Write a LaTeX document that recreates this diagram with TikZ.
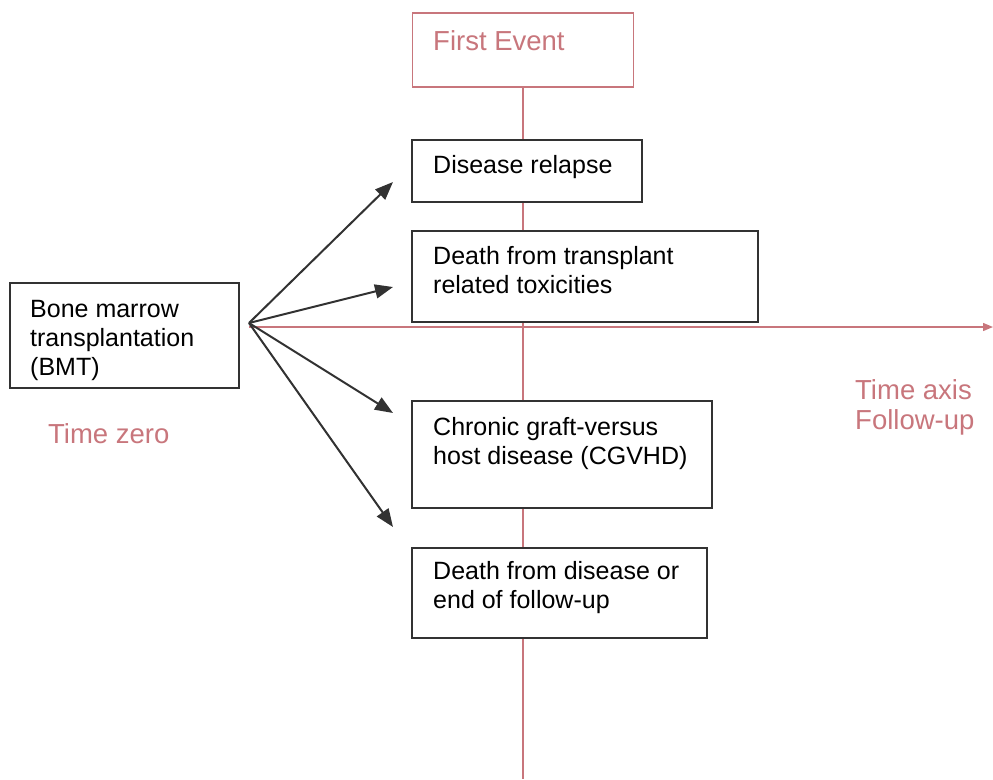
\documentclass[tikz,border=0pt]{standalone}
\usepackage{fontspec}
\setmainfont{Liberation Sans}
\usetikzlibrary{arrows.meta}
\definecolor{rose}{RGB}{200,118,124}
\definecolor{ink}{RGB}{50,50,50}
\begin{document}
\begin{tikzpicture}[x=1pt,y=-1pt,
  box/.style={draw=ink,line width=2pt,fill=white,anchor=north west,inner sep=0pt,outer sep=0pt},
  redbox/.style={draw=rose,line width=1.5pt,fill=white,anchor=north west,inner sep=0pt,outer sep=0pt},
  txt/.style={anchor=base west,inner sep=0pt,align=left,text=black,font=\fontsize{25}{28.7}\selectfont},
  redtxt/.style={anchor=base west,inner sep=0pt,align=left,text=rose,font=\fontsize{27.5}{30}\selectfont},
  axis/.style={draw=rose,line width=1.4pt},
  arr/.style={draw=ink,line width=2pt,-{Triangle[length=18pt,width=14pt]}}]
\useasboundingbox (0,0) rectangle (993,779);
% coordinates
\coordinate (origin) at (249,323);
\coordinate (axisstart) at (249,327);
\coordinate (axisend) at (993,327);
\coordinate (vbottom) at (523,779);
\coordinate (t1) at (393,182);
\coordinate (t2) at (393,287);
\coordinate (t3) at (393,413);
\coordinate (t4) at (393,527);
% First event box
\node[redbox,minimum width=221pt,minimum height=74pt] (first) at (412.5,13) {};
\node[redtxt] (firsttxt) at (433,50) {First Event};
% axes
\draw[axis] (first.south -| vbottom) -- (vbottom);
\draw[axis,-{Triangle[length=10pt,width=8pt]}] (axisstart) -- (axisend);
% boxes (base anchor of multi-line text = last line)
\node[box,minimum width=229pt,minimum height=105pt] (bmt) at (9.5,283) {};
\node[txt] (bmttxt) at (30,375) {Bone marrow\\transplantation\\(BMT)};
\node[box,minimum width=230pt,minimum height=62pt] (relapse) at (412,139.5) {};
\node[txt] (relapsetxt) at (433,173.5) {Disease relapse};
\node[box,minimum width=345.5pt,minimum height=91pt] (trans) at (412,231) {};
\node[txt] (transtxt) at (433,293) {Death from transplant\\related toxicities};
\node[box,minimum width=300pt,minimum height=107pt] (cgvhd) at (412,401) {};
\node[txt] (cgvhdtxt) at (433,464) {Chronic graft-versus\\host disease (CGVHD)};
\node[box,minimum width=295pt,minimum height=90pt] (death) at (412,547.5) {};
\node[txt] (deathtxt) at (433,608.5) {Death from disease or\\end of follow-up};
% red labels
\node[redtxt] (tzero) at (48,443) {Time zero};
\node[redtxt] (taxis) at (855,429) {Time axis\\Follow-up};
% arrows
\draw[arr] (origin) -- (t1);
\draw[arr] (origin) -- (t2);
\draw[arr] (origin) -- (t3);
\draw[arr] (origin) -- (t4);
\end{tikzpicture}
\end{document}
